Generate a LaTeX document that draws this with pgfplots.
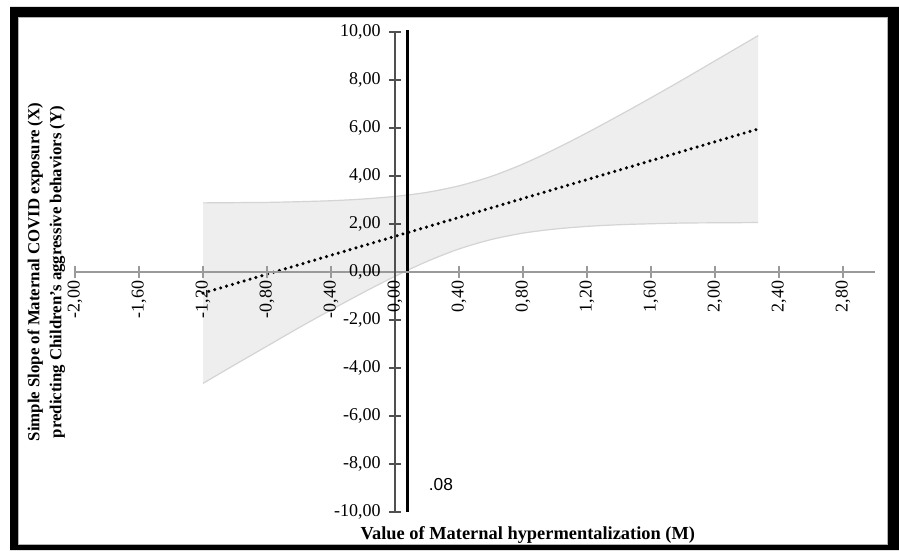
\documentclass[border=0pt]{standalone}
\usepackage{pgfplots}
\pgfplotsset{compat=1.18}
\usepackage{fontspec}
\setmainfont{Liberation Serif}
\newfontfamily\arialfont{Liberation Sans}
\definecolor{bandfill}{HTML}{EEEEEE}
\definecolor{bandedge}{HTML}{D4D4D4}
\definecolor{xaxcol}{HTML}{9A9A9A}
\definecolor{yaxcol}{HTML}{505050}
\begin{document}
\begin{tikzpicture}
\useasboundingbox (0,0) rectangle (674.25pt,412.5pt);
\fill[white] (0,0) rectangle (674.25pt,412.5pt);
\begin{axis}[
  axis on top,
  at={(56.25pt,28.5pt)}, anchor=south west,
  scale only axis, width=600pt, height=360pt,
  xmin=-2, xmax=3, ymin=-10, ymax=10,
  axis lines=middle,
  axis line style={-},
  x axis line style={xaxcol, line width=1.1pt},
  y axis line style={yaxcol, line width=1.1pt},
  hide obscured x ticks=false, hide obscured y ticks=false,
  xtick={-2,-1.6,-1.2,-0.8,-0.4,0,0.4,0.8,1.2,1.6,2.0,2.4,2.8},
  xticklabels={{-2,00},{-1,60},{-1,20},{-0,80},{-0,40},{0,00},{0,40},{0,80},{1,20},{1,60},{2,00},{2,40},{2,80}},
  ytick={-10,-8,-6,-4,-2,0,2,4,6,8,10},
  yticklabels={{-10,00},{-8,00},{-6,00},{-4,00},{-2,00},{0,00},{2,00},{4,00},{6,00},{8,00},{10,00}},
  tick align=center,
  major tick length=9pt,
  x tick style={xaxcol, line width=0.8pt},
  y tick style={yaxcol, line width=0.8pt},
  xticklabel style={rotate=90, anchor=east, font=\fontsize{13.5}{15}\selectfont, inner sep=2pt},
  yticklabel style={anchor=east, font=\fontsize{13.5}{15}\selectfont, inner sep=6pt},
  xlabel={Value of Maternal hypermentalization (M)},
  xlabel style={at={(rel axis cs:0.566,-0.048)}, anchor=center, font=\bfseries\fontsize{13.8}{16}\selectfont},
  ylabel={Simple Slope of Maternal COVID exposure (X)\\predicting Children's aggressive behaviors (Y)},
  ylabel style={at={(rel axis cs:-0.036,0.50)}, rotate=90, anchor=center, align=center, font=\bfseries\fontsize{12.6}{16.5}\selectfont},
  clip=false,
]
% confidence band
\addplot[fill=bandfill, draw=none] coordinates {
  (-1.2,2.88) (-1.0,2.89) (-0.8,2.90) (-0.6,2.93) (-0.4,2.97) (-0.2,3.04) (0.0,3.15)
  (0.2,3.32) (0.4,3.59) (0.6,3.98) (0.8,4.50) (1.0,5.12) (1.2,5.80) (1.4,6.52)
  (1.6,7.26) (1.8,8.02) (2.0,8.80) (2.27,9.85)
  (2.27,2.06) (2.0,2.05) (1.8,2.04) (1.6,2.01) (1.4,1.97) (1.2,1.90) (1.0,1.79)
  (0.8,1.62) (0.6,1.35) (0.4,0.96) (0.2,0.44) (0.0,-0.18) (-0.2,-0.86) (-0.4,-1.58)
  (-0.6,-2.32) (-0.8,-3.09) (-1.0,-3.86) (-1.2,-4.64)
} -- cycle;
\addplot[bandedge, line width=0.9pt, smooth] coordinates {
  (-1.2,2.88) (-1.0,2.89) (-0.8,2.90) (-0.6,2.93) (-0.4,2.97) (-0.2,3.04) (0.0,3.15)
  (0.2,3.32) (0.4,3.59) (0.6,3.98) (0.8,4.50) (1.0,5.12) (1.2,5.80) (1.4,6.52)
  (1.6,7.26) (1.8,8.02) (2.0,8.80) (2.27,9.85)};
\addplot[bandedge, line width=0.9pt, smooth] coordinates {
  (-1.2,-4.64) (-1.0,-3.86) (-0.8,-3.09) (-0.6,-2.32) (-0.4,-1.58) (-0.2,-0.86) (0.0,-0.18)
  (0.2,0.44) (0.4,0.96) (0.6,1.35) (0.8,1.62) (1.0,1.79) (1.2,1.90) (1.4,1.97)
  (1.6,2.01) (1.8,2.04) (2.0,2.05) (2.27,2.06)};
% simple slope line
\addplot[black, line width=2.6pt, line cap=round, dash pattern=on 0pt off 4.6pt] coordinates {(-1.2,-0.88) (2.27,5.96)};
% Johnson-Neyman line
\addplot[black, line width=2.2pt] coordinates {(0.08,-10) (0.08,10.1)};
\node[anchor=west, font=\arialfont\fontsize{13}{15}\selectfont, inner sep=0pt] at (axis cs:0.21,-8.85) {.08};
\end{axis}
\fill[black, even odd rule] (7.5pt,0pt) rectangle (674.25pt,407.25pt) (13.5pt,3.75pt) rectangle (666pt,399.75pt);
\draw[gray!60, line width=0.6pt] (13.8pt,4pt) rectangle (665.7pt,399.5pt);
\end{tikzpicture}
\end{document}
